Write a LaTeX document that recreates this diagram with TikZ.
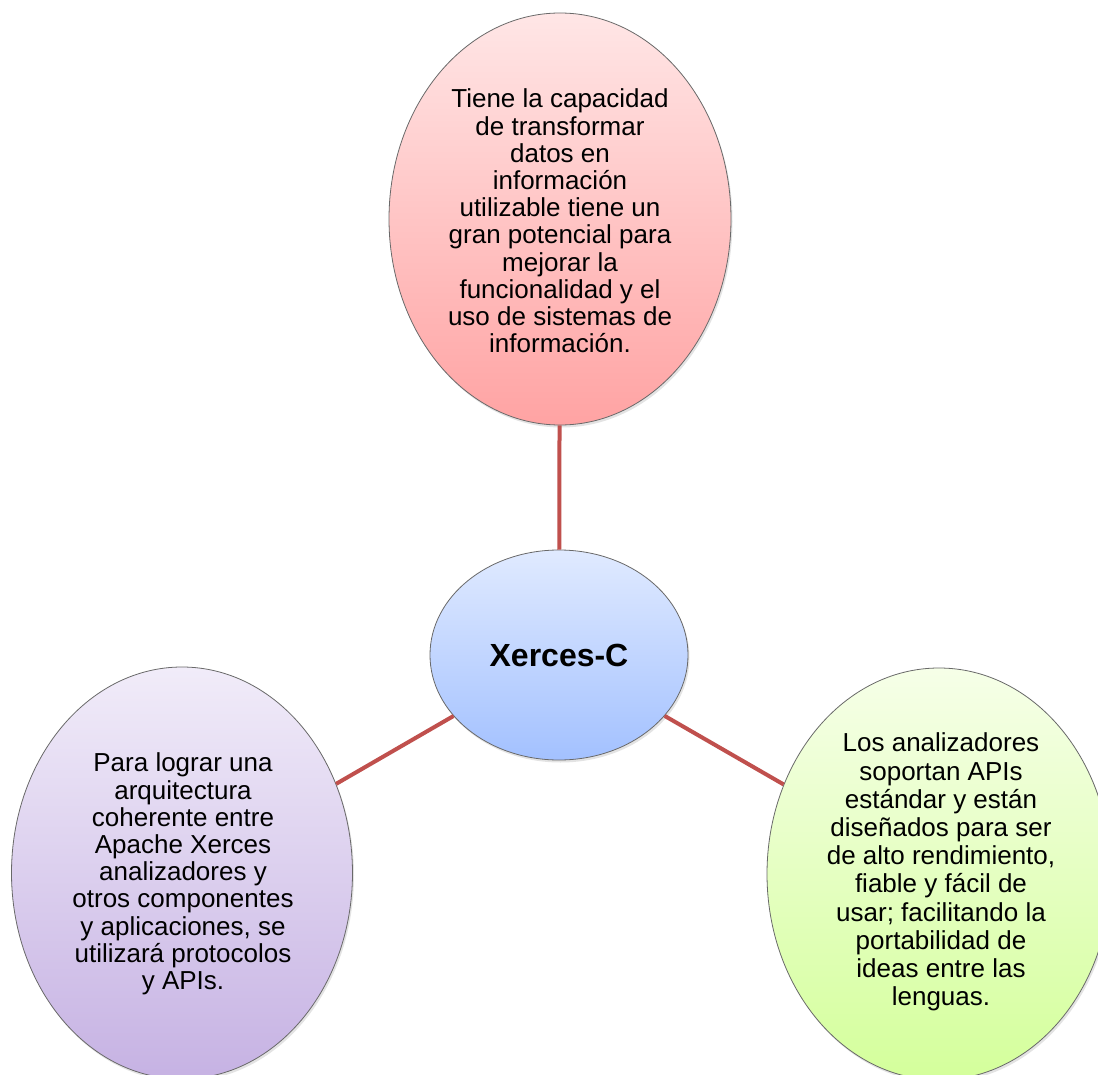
\documentclass[tikz,border=0pt]{standalone}
\usepackage{fontspec}
\setmainfont{Liberation Sans}
\usetikzlibrary{shapes.geometric,shadows}
\definecolor{linkred}{RGB}{192,80,77}
\definecolor{rimgray}{RGB}{105,105,105}
\tikzset{
  bubble/.style={ellipse, draw=rimgray, line width=0.8pt, inner sep=0pt,
    drop shadow={opacity=0.22, shadow xshift=1.5pt, shadow yshift=-2.5pt}},
  pinkfill/.style={top color={rgb,255:red,255;green,230;blue,230}, bottom color={rgb,255:red,255;green,163;blue,163}},
  bluefill/.style={top color={rgb,255:red,224;green,234;blue,255}, bottom color={rgb,255:red,163;green,193;blue,255}},
  lilacfill/.style={top color={rgb,255:red,241;green,236;blue,249}, bottom color={rgb,255:red,198;green,178;blue,227}},
  greenfill/.style={top color={rgb,255:red,246;green,255;blue,232}, bottom color={rgb,255:red,212;green,255;blue,155}},
  bubbletext/.style={align=center, inner sep=0pt, font=\fontsize{26}{27.2}\selectfont},
  link/.style={draw=linkred, line width=4pt}
}
\begin{document}
\begin{tikzpicture}[x=1pt,y=-1pt]
\useasboundingbox (0,0) rectangle (1098,1075);
\fill[white] (0,0) rectangle (1098,1075);
% ellipses
\node[bubble, pinkfill, minimum width=342pt, minimum height=412pt] (top) at (560,219) {};
\node[bubble, lilacfill, minimum width=341pt, minimum height=412pt] (left) at (182,873) {};
\node[bubble, greenfill, minimum width=344pt, minimum height=412pt] (right) at (939,874) {};
\node[bubble, bluefill, minimum width=258pt, minimum height=210pt] (hub) at (559,655) {};
% connectors
\draw[link] (hub) -- (top);
\draw[link] (hub) -- (left);
\draw[link] (hub) -- (right);
% texts
\node[font=\fontsize{32}{36}\selectfont\bfseries] (hubtext) at (hub.center) {Xerces-C};
\node[bubbletext] (toptext) at (560,221) {Tiene la capacidad\\de transformar\\datos en\\información\\utilizable tiene un\\gran potencial para\\mejorar la\\funcionalidad y el\\uso de sistemas de\\información.};
\node[bubbletext] (lefttext) at (183,874) {Para lograr una\\arquitectura\\coherente entre\\Apache Xerces\\analizadores y\\otros componentes\\y aplicaciones, se\\utilizará protocolos\\y APIs.};
\node[bubbletext, font=\fontsize{26}{28.2}\selectfont] (righttext) at (941,872) {Los analizadores\\soportan APIs\\estándar y están\\diseñados para ser\\de alto rendimiento,\\fiable y fácil de\\usar; facilitando la\\portabilidad de\\ideas entre las\\lenguas.};
\end{tikzpicture}
\end{document}
